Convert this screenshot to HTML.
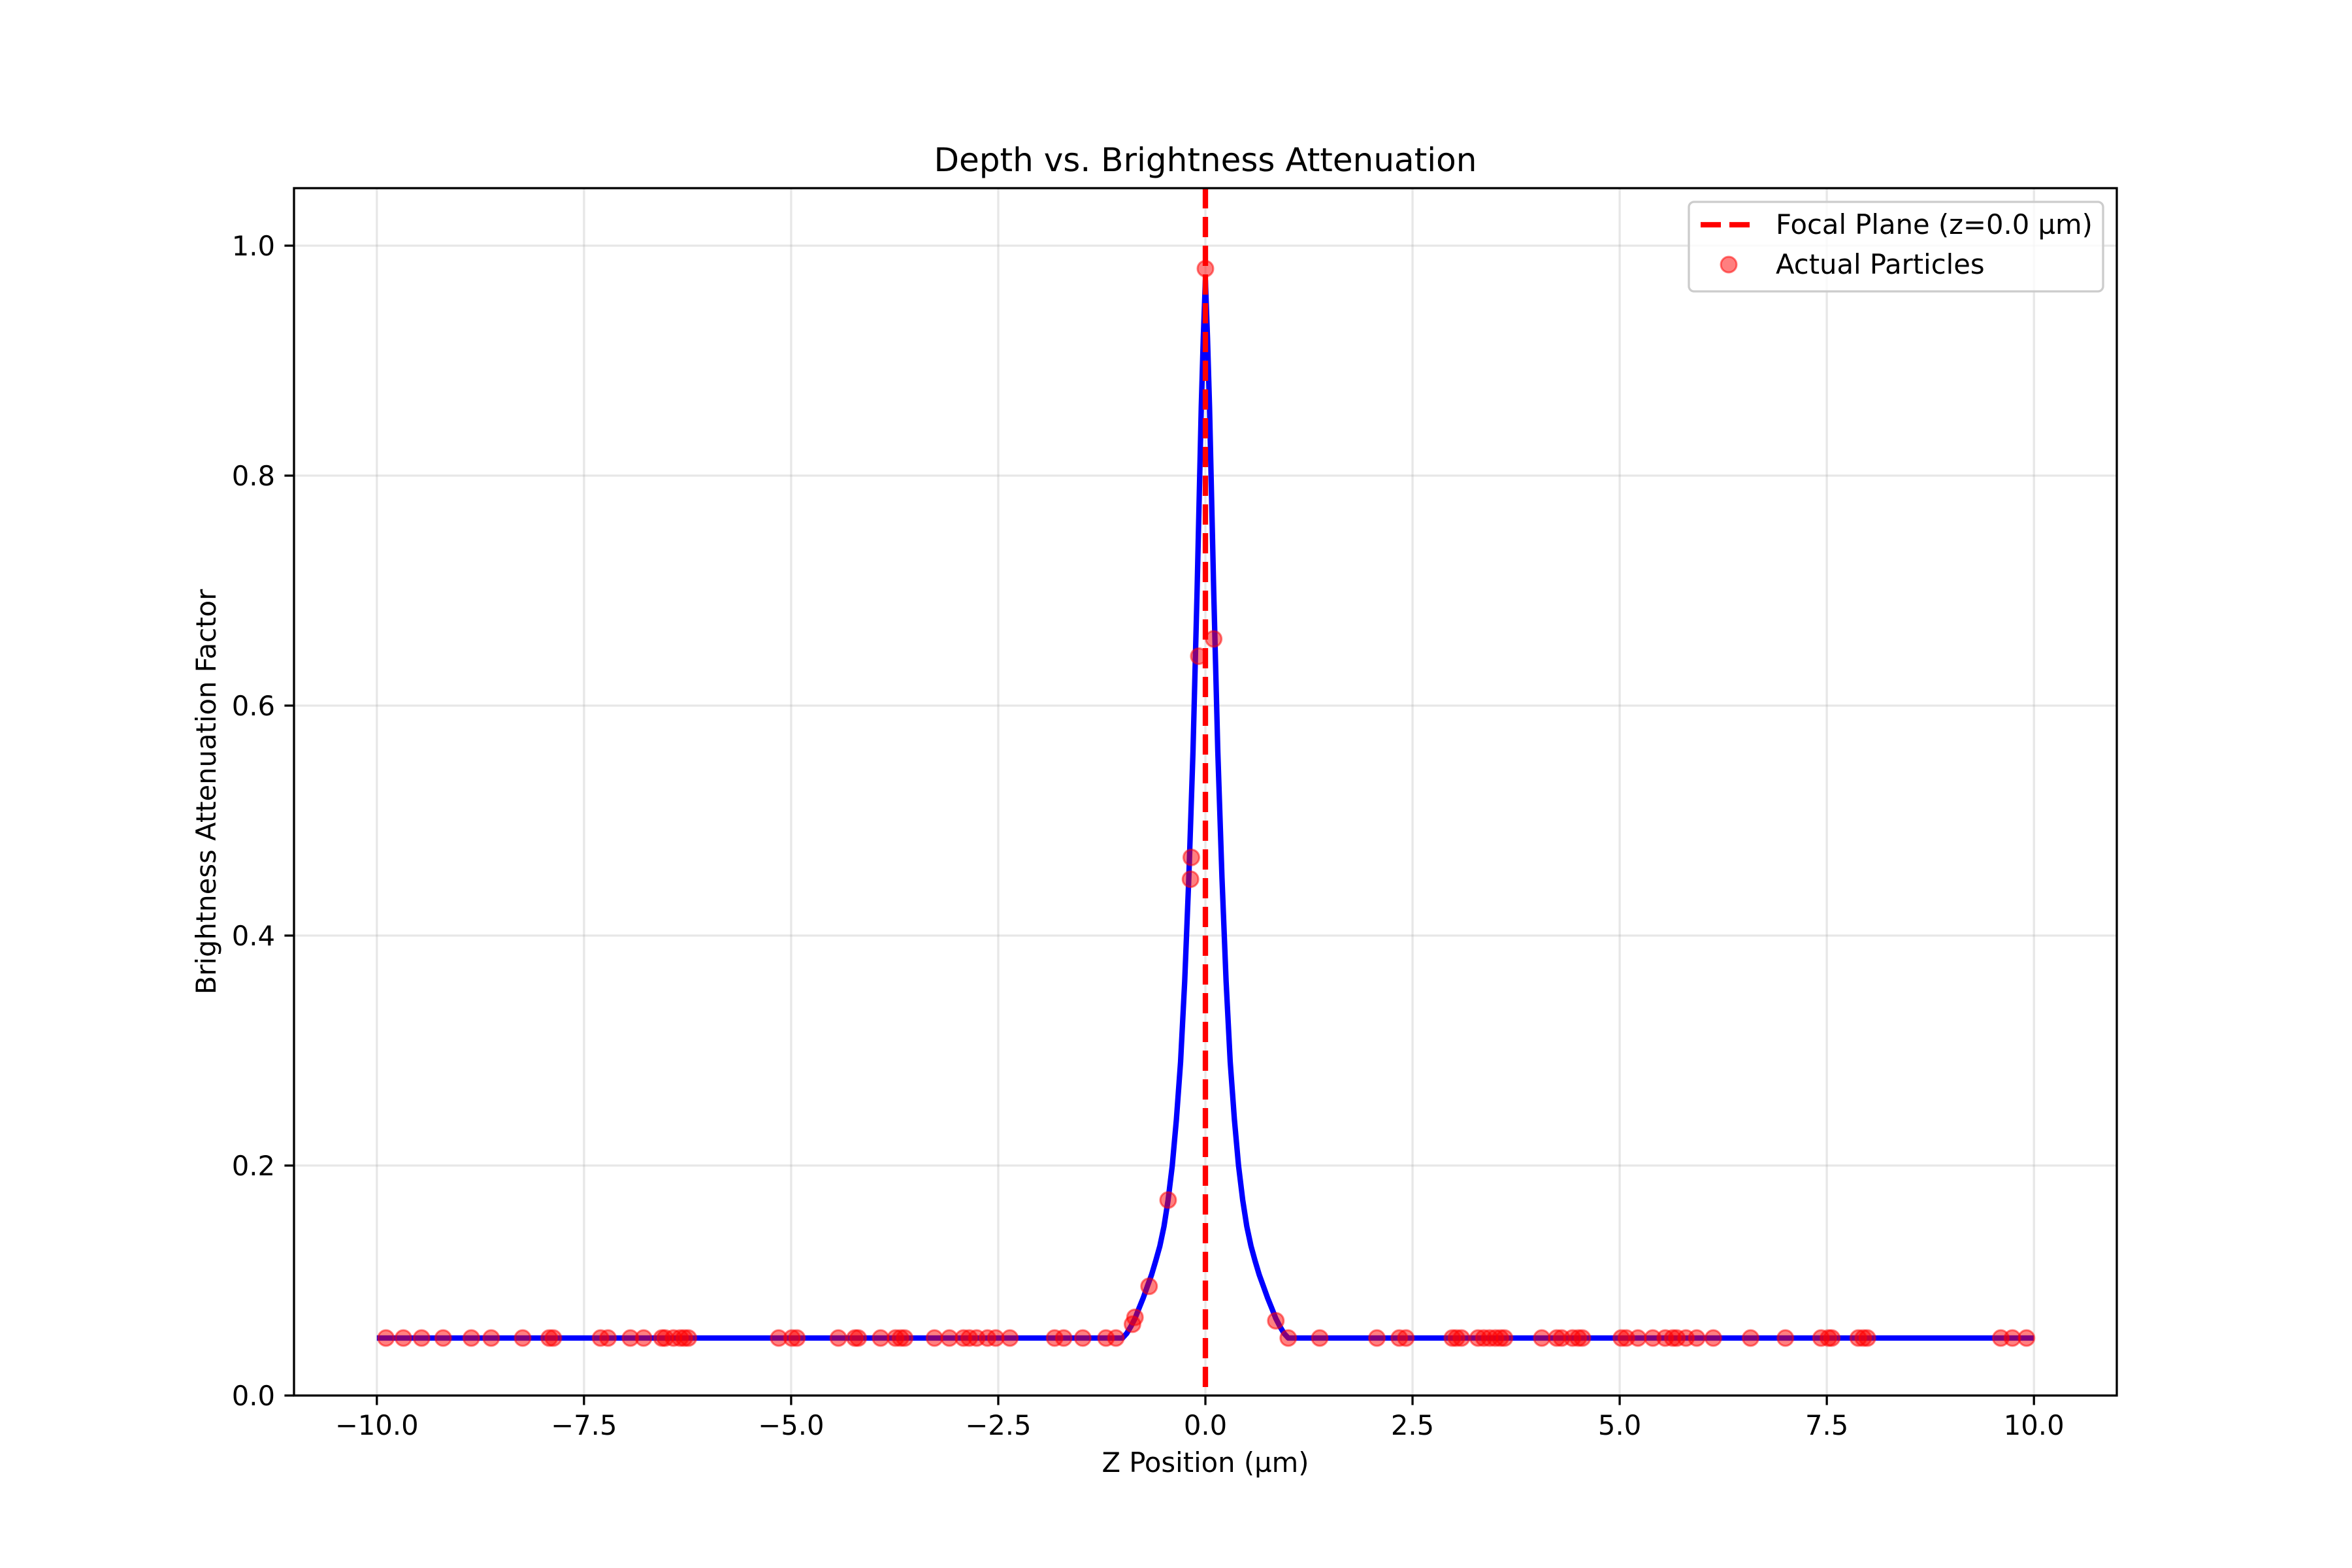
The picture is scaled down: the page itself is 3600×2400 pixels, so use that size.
<!DOCTYPE html>
<html><head><meta charset="utf-8"><style>
html,body{margin:0;padding:0;background:#fff}
svg{display:block;font-family:"DejaVu Sans","Liberation Sans",sans-serif}
</style></head><body>
<svg id="chart" width="3600" height="2400" viewBox="0 0 3600 2400" xmlns="http://www.w3.org/2000/svg">
<rect x="0" y="0" width="3600" height="2400" fill="#fff"/>
<g id="grid"></g>
<g id="marks"></g>
<rect x="450" y="288" width="2790" height="1848" fill="none" stroke="#000" stroke-width="3.3"/>
<g id="ticks"></g>
<text x="1845" y="262" font-size="50" text-anchor="middle">Depth vs. Brightness Attenuation</text>
<text x="1845" y="2253" font-size="41.7" text-anchor="middle">Z Position (µm)</text>
<text x="330" y="1212" font-size="41.7" text-anchor="middle" transform="rotate(-90 330 1212)">Brightness Attenuation Factor</text>
<g>
<rect x="2585" y="309" width="634" height="137" rx="8" fill="#fff" fill-opacity="0.8" stroke="#ccc" stroke-width="3.3"/>
<line x1="2603" y1="344" x2="2690" y2="344" stroke="#f00" stroke-width="8.3" stroke-dasharray="31,13"/>
<text x="2718" y="358" font-size="41.7">Focal Plane (z=0.0 µm)</text>
<circle cx="2646" cy="405" r="12" fill="rgba(255,0,0,0.5)" stroke="rgba(255,0,0,0.5)" stroke-width="3"/>
<text x="2718" y="419" font-size="41.7">Actual Particles</text>
</g>
</svg>
<script>
const xTicks = [-10, -7.5, -5, -2.5, 0, 2.5, 5, 7.5, 10];
const xTickLabels = ["\u221210.0","\u22127.5","\u22125.0","\u22122.5","0.0","2.5","5.0","7.5","10.0"];
const yTicks = [0, 0.2, 0.4, 0.6, 0.8, 1.0];
const yTickLabels = ["0.0","0.2","0.4","0.6","0.8","1.0"];
const curveZ = [-10, -1, -0.95, -0.9, -0.85, -0.8, -0.75, -0.7, -0.65, -0.6, -0.55, -0.5, -0.45, -0.4, -0.35, -0.3, -0.25, -0.2, -0.15, -0.1, -0.075, -0.05, -0.025, 0, 0.025, 0.05, 0.075, 0.1, 0.15, 0.2, 0.25, 0.3, 0.35, 0.4, 0.45, 0.5, 0.55, 0.6, 0.65, 0.7, 0.75, 0.8, 0.85, 0.9, 0.95, 1, 10];
const curveY = [0.05, 0.05, 0.054, 0.06, 0.067, 0.076, 0.085, 0.095, 0.105, 0.117, 0.13, 0.147, 0.17, 0.20, 0.24, 0.29, 0.36, 0.45, 0.56, 0.70, 0.78, 0.86, 0.92, 0.97, 0.92, 0.86, 0.78, 0.70, 0.56, 0.45, 0.36, 0.29, 0.24, 0.20, 0.17, 0.147, 0.13, 0.117, 0.105, 0.095, 0.085, 0.076, 0.067, 0.06, 0.054, 0.05, 0.05];
const particleZ = [0.0, -0.08, 0.1, -0.17, -0.18, -0.45, -0.68, -0.85, -0.88, 0.85, 1.0,
 -9.89,-9.68,-9.46,-9.20,-8.86,-8.62,-8.24,-7.92,-7.87,-7.30,-7.21,-6.94,-6.78,-6.56,-6.52,-6.42,-6.34,-6.29,-6.24,-5.15,-4.99,-4.93,-4.43,-4.23,-4.19,-3.92,-3.74,-3.68,-3.63,-3.27,-3.09,-2.92,-2.85,-2.76,-2.63,-2.53,-2.36,-1.82,-1.71,-1.48,-1.20,-1.08,
 1.38,2.07,2.34,2.42,2.98,3.03,3.09,3.29,3.36,3.43,3.50,3.56,3.61,4.06,4.24,4.30,4.43,4.50,4.55,5.02,5.08,5.22,5.40,5.55,5.64,5.69,5.80,5.93,6.13,6.58,7.00,7.43,7.52,7.56,7.88,7.94,7.99,9.60,9.74,9.91];
const particleY = [0.98, 0.643, 0.658, 0.468, 0.449, 0.17, 0.095, 0.068, 0.062, 0.065, 0.05,
 0.05,0.05,0.05,0.05,0.05,0.05,0.05,0.05,0.05,0.05,0.05,0.05,0.05,0.05,0.05,0.05,0.05,0.05,0.05,0.05,0.05,0.05,0.05,0.05,0.05,0.05,0.05,0.05,0.05,0.05,0.05,0.05,0.05,0.05,0.05,0.05,0.05,0.05,0.05,0.05,0.05,0.05,
 0.05,0.05,0.05,0.05,0.05,0.05,0.05,0.05,0.05,0.05,0.05,0.05,0.05,0.05,0.05,0.05,0.05,0.05,0.05,0.05,0.05,0.05,0.05,0.05,0.05,0.05,0.05,0.05,0.05,0.05,0.05,0.05,0.05,0.05,0.05,0.05,0.05,0.05,0.05,0.05];
const focalZ = 0.0;

const X0=450, X1=3240, Y0=2136, Y1=288;
const xMin=-11, xMax=11, yMin=0, yMax=1.05;
function sx(v){return X0+(v-xMin)/(xMax-xMin)*(X1-X0);}
function sy(v){return Y0-(v-yMin)/(yMax-yMin)*(Y0-Y1);}
const NS="http://www.w3.org/2000/svg";
function mk(tag, attrs, parent){const e=document.createElementNS(NS,tag);for(const k in attrs)e.setAttribute(k,attrs[k]);parent.appendChild(e);return e;}
const grid=document.getElementById('grid'), ticks=document.getElementById('ticks'), marks=document.getElementById('marks');

xTicks.forEach((t,i)=>{
  const g=mk('line',{x1:sx(t),x2:sx(t),y1:Y1,y2:Y0,stroke:'#b0b0b0','stroke-opacity':0.3,'stroke-width':3.3},grid);
  
  
  const tk=mk('line',{x1:sx(t),x2:sx(t),y1:Y0,y2:Y0+14.6,stroke:'#000','stroke-width':3.3},ticks);
  
  
  const tl=mk('text',{x:sx(t),y:Y0+60,'font-size':41.7,'text-anchor':'middle'},ticks);
  tl.textContent=xTickLabels[i];
  
  
});
yTicks.forEach((t,i)=>{
  const g=mk('line',{x1:X0,x2:X1,y1:sy(t),y2:sy(t),stroke:'#b0b0b0','stroke-opacity':0.3,'stroke-width':3.3},grid);
  
  
  const tk=mk('line',{x1:X0-14.6,x2:X0,y1:sy(t),y2:sy(t),stroke:'#000','stroke-width':3.3},ticks);
  
  
  const tl=mk('text',{x:X0-29,y:sy(t)+15,'font-size':41.7,'text-anchor':'end'},ticks);
  tl.textContent=yTickLabels[i];
  
  
});

const pts=curveZ.map((z,i)=>sx(z).toFixed(1)+','+sy(curveY[i]).toFixed(1)).join(' ');
const cl=mk('polyline',{points:pts,fill:'none',stroke:'#0000ff','stroke-width':8.3,'stroke-linejoin':'round'},marks);



particleZ.forEach((z,i)=>{
  const c=mk('circle',{cx:sx(z),cy:sy(particleY[i]),r:12,fill:'rgba(255,0,0,0.5)',stroke:'rgba(255,0,0,0.5)','stroke-width':3},marks);
  
  
});

const fl=mk('line',{x1:sx(focalZ),x2:sx(focalZ),y1:Y1,y2:Y0,stroke:'#f00','stroke-width':8.3,'stroke-dasharray':'31,13'},marks);


</script>
</body></html>
